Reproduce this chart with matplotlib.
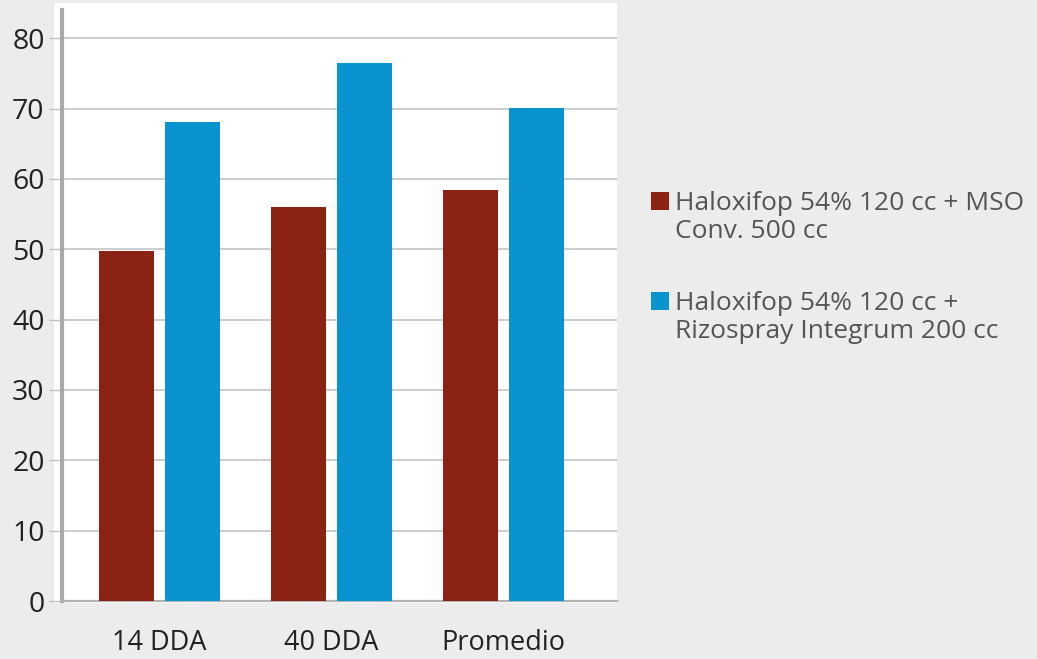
import numpy as np
import matplotlib
matplotlib.use("Agg")
import matplotlib.pyplot as plt
from matplotlib.patches import Rectangle

# data
categories = ["14 DDA", "40 DDA", "Promedio"]
mso_vals = [49.8, 56.0, 58.4]
rizo_vals = [68.1, 76.5, 70.1]
series_labels = ["Haloxifop 54% 120 cc + MSO\nConv. 500 cc",
                 "Haloxifop 54% 120 cc +\nRizospray Integrum 200 cc"]
series_colors = ["#8b2314", "#0994cf"]
yticks = [0, 10, 20, 30, 40, 50, 60, 70, 80]

plt.rcParams['font.family'] = ['Open Sans', 'DejaVu Sans']

W, H = 1037, 659
fig = plt.figure(figsize=(W / 100, H / 100), dpi=100)
fig.patch.set_facecolor("#ebeceb")

# white panel behind the plot
fig.add_artist(Rectangle((54 / W, 1 - 603 / H), (617 - 54) / W, (603 - 3) / H,
                         transform=fig.transFigure, facecolor="white",
                         edgecolor="none", zorder=0))

ax = fig.add_axes([62 / W, 1 - 601 / H, (617 - 62) / W, (601 - 10) / H])
ax.set_facecolor("none")

x = np.arange(len(categories))
bw = 0.32
off = 0.192
ax.bar(x - off, mso_vals, bw, color=series_colors[0], zorder=3)
ax.bar(x + off, rizo_vals, bw, color=series_colors[1], zorder=3)

ax.set_xlim(-0.567, 2.66)
ax.set_ylim(0, 84)
ax.set_yticks(yticks)
ax.set_xticks(x)
ax.set_xticklabels(categories)
ax.yaxis.grid(True, color="#c9c9c9", linewidth=1.3, zorder=0)
ax.set_axisbelow(True)

for s in ["top", "right"]:
    ax.spines[s].set_visible(False)
ax.spines["left"].set_color("#a9a9aa")
ax.spines["left"].set_linewidth(3)
ax.spines["bottom"].set_color("#b3b3b3")
ax.spines["bottom"].set_linewidth(1.6)

ax.tick_params(axis="y", length=9.5, width=1, color="#c0c0c0", pad=3,
               labelsize=20.5, labelcolor="#222222")
ax.tick_params(axis="x", length=0, pad=20, labelsize=19.5, labelcolor="#222222")

# legend drawn by hand: squares and two-line labels
leg_y = [192, 292]
for i in range(2):
    fig.add_artist(Rectangle((651 / W, 1 - (leg_y[i] + 18) / H), 18 / W, 18 / H,
                             transform=fig.transFigure,
                             facecolor=series_colors[i], edgecolor="none"))
    fig.text(675 / W, 1 - (leg_y[i] - 1) / H, series_labels[i],
             fontsize=19, color="#555555", va="top", ha="left",
             linespacing=1.18)

fig.savefig("out.png", dpi=100, facecolor=fig.get_facecolor())
